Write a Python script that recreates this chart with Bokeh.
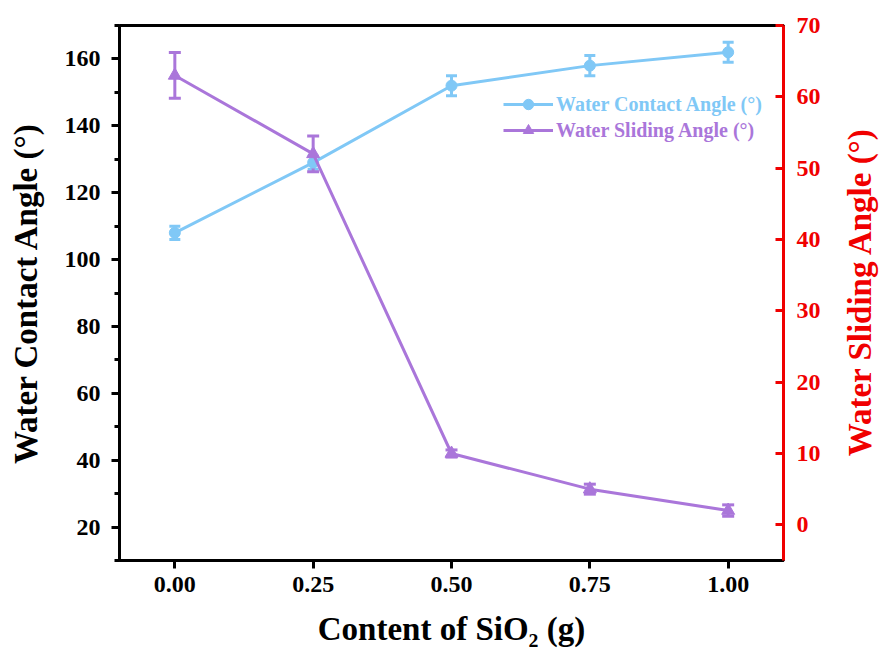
import math
from bokeh.plotting import figure
from bokeh.layouts import row
from bokeh.models import (Range1d, LinearAxis, FixedTicker, Whisker, TeeHead,
                          ColumnDataSource, Legend, LegendItem, Label)
from bokeh.embed import file_html
from bokeh.resources import INLINE

# ---- data ----
sio2 = [0.00, 0.25, 0.50, 0.75, 1.00]
wca = [108, 129, 152, 158, 162]
wca_err = [2, 2, 3, 3, 3]
wsa = [63, 52, 10, 5, 2]
wsa_err = [3.2, 2.5, 0.5, 0.7, 0.8]
x_ticks = [0.00, 0.25, 0.50, 0.75, 1.00]
x_tick_labels = ["0.00", "0.25", "0.50", "0.75", "1.00"]
left_ticks = [20, 40, 60, 80, 100, 120, 140, 160]
left_minor = [10, 30, 50, 70, 90, 110, 130, 150, 170]
right_ticks = [0, 10, 20, 30, 40, 50, 60, 70]

BLUE = "#80c8f6"
PURPLE = "#aa76da"
RED = "#f00000"
FONT = "Liberation Serif"

p = figure(width=838, height=664, output_backend="svg", toolbar_location=None,
           x_range=Range1d(-0.1, 1.1), y_range=Range1d(10, 170),
           min_border_left=119, min_border_right=55, min_border_top=25,
           min_border_bottom=104)
p.extra_y_ranges = {"right": Range1d(-5, 70)}
p.grid.visible = False
p.outline_line_color = "black"
p.outline_line_width = 3
p.outline_line_alpha = 1

# blue series
src1 = ColumnDataSource(dict(x=sio2, y=wca,
                             up=[v + e for v, e in zip(wca, wca_err)],
                             lo=[v - e for v, e in zip(wca, wca_err)]))
l1 = p.line("x", "y", source=src1, line_color=BLUE, line_width=3)
w1 = Whisker(source=src1, base="x", upper="up", lower="lo", line_color=BLUE, line_width=3,
             upper_head=TeeHead(size=11, line_color=BLUE, line_width=3),
             lower_head=TeeHead(size=11, line_color=BLUE, line_width=3))
p.add_layout(w1)
s1 = p.scatter("x", "y", source=src1, marker="circle", size=11, fill_color=BLUE, line_color=BLUE)

# purple series
src2 = ColumnDataSource(dict(x=sio2, y=wsa,
                             up=[v + e for v, e in zip(wsa, wsa_err)],
                             lo=[v - e for v, e in zip(wsa, wsa_err)]))
l2 = p.line("x", "y", source=src2, line_color=PURPLE, line_width=3, y_range_name="right")
w2 = Whisker(source=src2, base="x", upper="up", lower="lo", line_color=PURPLE, line_width=3,
             y_range_name="right",
             upper_head=TeeHead(size=12, line_color=PURPLE, line_width=3),
             lower_head=TeeHead(size=12, line_color=PURPLE, line_width=3))
p.add_layout(w2)
s2 = p.scatter("x", "y", source=src2, marker="triangle", size=13, fill_color=PURPLE,
               line_color=PURPLE, y_range_name="right")

# axes styling
def style_axis(ax, color):
    ax.axis_line_color = color
    ax.axis_line_width = 3
    ax.major_tick_line_color = color
    ax.major_tick_line_width = 3
    ax.minor_tick_line_color = color
    ax.minor_tick_line_width = 3
    ax.major_label_text_color = color
    ax.major_label_text_font = FONT
    ax.major_label_text_font_style = "bold"
    ax.major_label_text_font_size = "24px"
    ax.axis_label_text_color = color
    ax.axis_label_text_font = FONT
    ax.axis_label_text_font_style = "bold"
    ax.axis_label_text_font_size = "33px"

xa = p.xaxis[0]
style_axis(xa, "black")
xa.ticker = FixedTicker(ticks=x_ticks)
xa.major_label_overrides = {t: s for t, s in zip(x_ticks, x_tick_labels)}
xa.major_tick_out = 8
xa.major_tick_in = 0
xa.major_label_standoff = 8
xa.axis_label = "Content of SiO₂ (g)"
xa.axis_label_standoff = 16

ya = p.yaxis[0]
style_axis(ya, "black")
ya.ticker = FixedTicker(ticks=left_ticks, minor_ticks=left_minor)
ya.major_tick_out = 8
ya.major_tick_in = 0
ya.minor_tick_out = 5
ya.minor_tick_in = 0
ya.major_label_standoff = 11
ya.axis_label = "Water Contact Angle (°)"
ya.axis_label_standoff = 18

ra = LinearAxis(y_range_name="right")
style_axis(ra, RED)
ra.ticker = FixedTicker(ticks=right_ticks)
ra.major_tick_out = 0
ra.major_tick_in = 8
ra.minor_tick_out = 0
ra.minor_tick_in = 0
ra.major_label_standoff = 13
p.add_layout(ra, "right")

# legends
def make_legend(label, renderers, color, loc):
    lg = Legend(items=[LegendItem(label=label, renderers=renderers)], location=loc,
                glyph_width=50, glyph_height=26, label_standoff=3, padding=0, margin=0,
                spacing=0, label_text_font=FONT, label_text_font_style="bold",
                label_text_font_size="20px", label_text_color=color,
                border_line_alpha=0, background_fill_alpha=0)
    p.add_layout(lg)

make_legend("Water Contact Angle (°)", [l1, s1], BLUE, (384, 443))
make_legend("Water Sliding Angle (°)", [l2, s2], PURPLE, (384, 417))

# narrow strip holding the right axis title, reading bottom-to-top
p2 = figure(width=43, height=664, output_backend="svg", toolbar_location=None,
            x_axis_location=None, y_axis_location=None,
            min_border_left=0, min_border_right=0, min_border_top=0, min_border_bottom=0)
p2.grid.visible = False
p2.outline_line_color = None
right_title = Label(x=21, y=269, x_units="screen", y_units="screen",
                    text="Water Sliding Angle (°)", angle=math.pi / 2,
                    text_align="center", text_baseline="middle",
                    text_font=FONT, text_font_style="bold", text_font_size="33px",
                    text_color=RED)
p2.add_layout(right_title)

layout = row(p, p2, spacing=0)
open("out.html", "w").write(file_html(layout, INLINE))
